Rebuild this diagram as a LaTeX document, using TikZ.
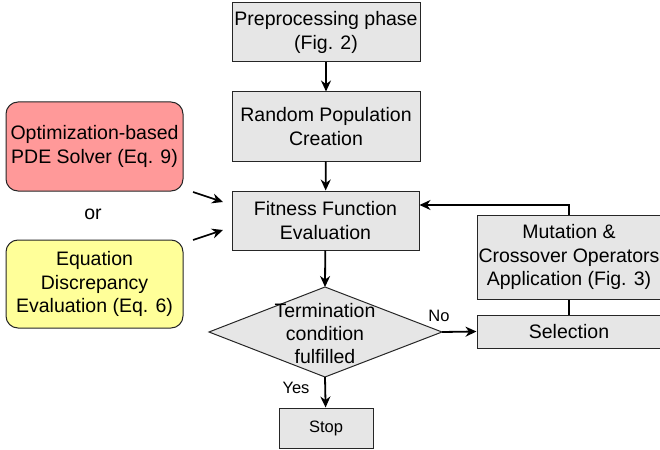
\documentclass[tikz,border=0pt]{standalone}
\usepackage{fontspec}
\setmainfont{Liberation Sans}
\usetikzlibrary{arrows.meta}
\definecolor{boxgray}{HTML}{E6E6E6}
\definecolor{boxred}{HTML}{FF9999}
\definecolor{boxyellow}{HTML}{FFFF99}
\definecolor{edgec}{HTML}{262626}
\begin{document}
\begin{tikzpicture}[x=1pt,y=-1pt,
 box/.style={draw=edgec, line width=1pt, fill=boxgray, align=center, inner sep=0pt, font=\fontsize{19.5}{23.5}\selectfont},
 rbox/.style={box, rounded corners=12pt},
 small/.style={font=\fontsize{16.5}{20}\selectfont, inner sep=0pt},
 arr/.style={-{Stealth[length=11pt,width=10pt]}, line width=1.8pt, black},
 conn/.style={line width=1.6pt, black}]
\useasboundingbox (0,0) rectangle (660,449);
\node[box, minimum width=188, minimum height=59] (pre) at (326,32.5) {Preprocessing phase\\(Fig. 2)};
\node[box, minimum width=188, minimum height=69] (rand) at (326,126.5) {Random Population\\Creation};
\node[box, minimum width=187, minimum height=59] (fit) at (325.5,220.5) {Fitness Function\\Evaluation};
\coordinate (dl) at (209,332);
\coordinate (dt) at (325,287);
\coordinate (dr) at (442,332);
\coordinate (db) at (325,377);
\draw[draw=edgec, line width=1pt, fill=boxgray] (dl) -- (dt) -- (dr) -- (db) -- cycle;
\node[align=center, inner sep=0pt, font=\fontsize{19.5}{23}\selectfont] (term) at (325,334) {Termination\\condition\\fulfilled};
\node[box, minimum width=94, minimum height=40, font=\fontsize{16.5}{20}\selectfont] (stop) at (326,428) {Stop};
\node[box, minimum width=184, minimum height=84] (mut) at (569,257) {Mutation \&\\Crossover Operators\\Application (Fig. 3)};
\node[box, minimum width=184, minimum height=33] (sel) at (569,331.5) {Selection};
\node[rbox, fill=boxred, minimum width=177, minimum height=89] (pde) at (94.5,146.5) {Optimization-based\\PDE Solver (Eq. 9)};
\node[rbox, fill=boxyellow, minimum width=177, minimum height=88] (eqd) at (94.5,284) {Equation\\Discrepancy\\Evaluation (Eq. 6)};
\node[inner sep=0pt, font=\fontsize{19.5}{23.5}\selectfont] (or) at (93,214) {or};
\node[small] (no) at (439,316) {No};
\node[small] (yes) at (296,388) {Yes};
\coordinate (a1s) at (193,192);
\coordinate (a1e) at (223,202);
\coordinate (a2s) at (193,240);
\coordinate (a2e) at (223,230);
\draw[arr] (pre) -- (rand);
\draw[arr] (rand) -- (fit);
\draw[arr] (fit) -- (dt);
\draw[arr] (dr) -- (sel.west);
\draw[arr] (db) -- (stop);
\draw[conn] (sel.north) -- (mut.south);
\draw[arr, line width=1.6pt] (mut.north) |- ([yshift=15.5pt]fit.east);
\draw[arr, line width=1.6pt] (a1s) -- (a1e);
\draw[arr, line width=1.6pt] (a2s) -- (a2e);
\end{tikzpicture}
\end{document}
